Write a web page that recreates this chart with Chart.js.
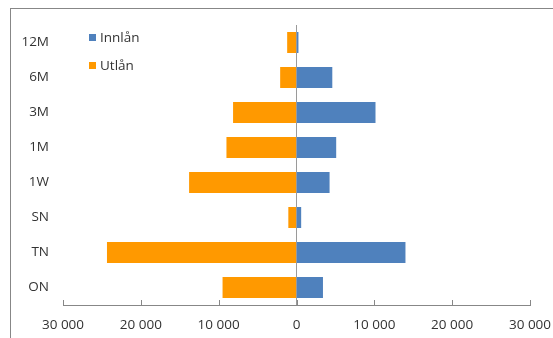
<!DOCTYPE html>
<html>
<head>
<meta charset="utf-8">
<script src="https://cdn.jsdelivr.net/npm/chart.js@4"></script>
<style>
  html, body { margin: 0; padding: 0; background: #fff; overflow: hidden; }
  #wrap { position: relative; width: 553px; height: 338px; }
  #frame { position: absolute; left: 10px; top: 8px; width: 700px; height: 500px; border: 1px solid #878787; }
  #legend { position: absolute; left: 89px; top: 28px; font: 13.5px "Open Sans", sans-serif; color: #333; }
  #legend div { height: 28px; line-height: 18px; }
  #legend span { display: inline-block; width: 7px; height: 7px; margin-right: 4px; vertical-align: 1px; }
  canvas { position: absolute; left: 0; top: 0; }
</style>
</head>
<body>
<div id="wrap">
  <div id="frame"></div>
  <canvas id="myChart" width="553" height="338"></canvas>
  <div id="legend"></div>
</div>
<script>
const categories = ['12M', '6M', '3M', '1M', '1W', 'SN', 'TN', 'ON'];
const innlan = [250, 4600, 10150, 5100, 4250, 600, 14000, 3400];
const utlan = [-1200, -2100, -8150, -9000, -13800, -1050, -24350, -9500];
const tickValues = [-30000, -20000, -10000, 0, 10000, 20000, 30000];

const blue = '#4F81BD';
const orange = '#FF9900';

// legend drawn as html on top of the plot
const legendBox = document.getElementById('legend');
[['Innlån', blue], ['Utlån', orange]].forEach(([name, col]) => {
    const row = document.createElement('div');
    row.innerHTML = '<span style="background:' + col + '"></span>' + name;
    legendBox.appendChild(row);
});

const fmt = v => String(Math.abs(v)).replace(/\B(?=(\d{3})+(?!\d))/g, ' ');

// short tick marks pointing up from the x axis
const innerTicks = {
    id: 'innerTicks',
    afterDraw(chart) {
        const x = chart.scales.x;
        const c = chart.ctx;
        const y = chart.chartArea.bottom;
        c.save();
        c.strokeStyle = '#878787';
        c.lineWidth = 1;
        tickValues.forEach(v => {
            const px = Math.round(x.getPixelForValue(v)) + 0.5;
            c.beginPath();
            c.moveTo(px, y);
            c.lineTo(px, y - 5);
            c.stroke();
        });
        c.restore();
    }
};

const ctx = document.getElementById('myChart');

new Chart(ctx, {
    type: 'bar',
    data: {
        labels: categories,
        datasets: [
            { label: 'Innlån', data: innlan, backgroundColor: blue },
            { label: 'Utlån', data: utlan, backgroundColor: orange }
        ]
    },
    plugins: [innerTicks],
    options: {
        indexAxis: 'y',
        responsive: false,
        animation: false,
        layout: { padding: { left: 10, right: 23, top: 25, bottom: 0 } },
        datasets: { bar: { categoryPercentage: 0.6, barPercentage: 1 } },
        plugins: {
            legend: { display: false },
            tooltip: { enabled: false }
        },
        scales: {
            x: {
                stacked: true,
                min: -30000,
                max: 30000,
                afterBuildTicks: s => { s.ticks = tickValues.map(v => ({ value: v })); },
                afterFit: s => { s.height = 33; s.paddingLeft = 0; s.paddingRight = 0; },
                ticks: {
                    callback: v => fmt(v),
                    color: '#333',
                    font: { family: 'Open Sans', size: 13.5 },
                    padding: 12,
                    maxRotation: 0
                },
                grid: {
                    drawTicks: false,
                    color: c => (c.tick && c.tick.value === 0) ? '#9a9a9a' : 'transparent'
                },
                border: { display: true, color: '#878787' }
            },
            y: {
                stacked: true,
                afterFit: s => { s.width = 53; },
                ticks: {
                    color: '#333',
                    font: { family: 'Open Sans', size: 13.5 },
                    padding: 14
                },
                grid: { display: false, drawTicks: false },
                border: { display: false }
            }
        }
    }
});
</script>
</body>
</html>
